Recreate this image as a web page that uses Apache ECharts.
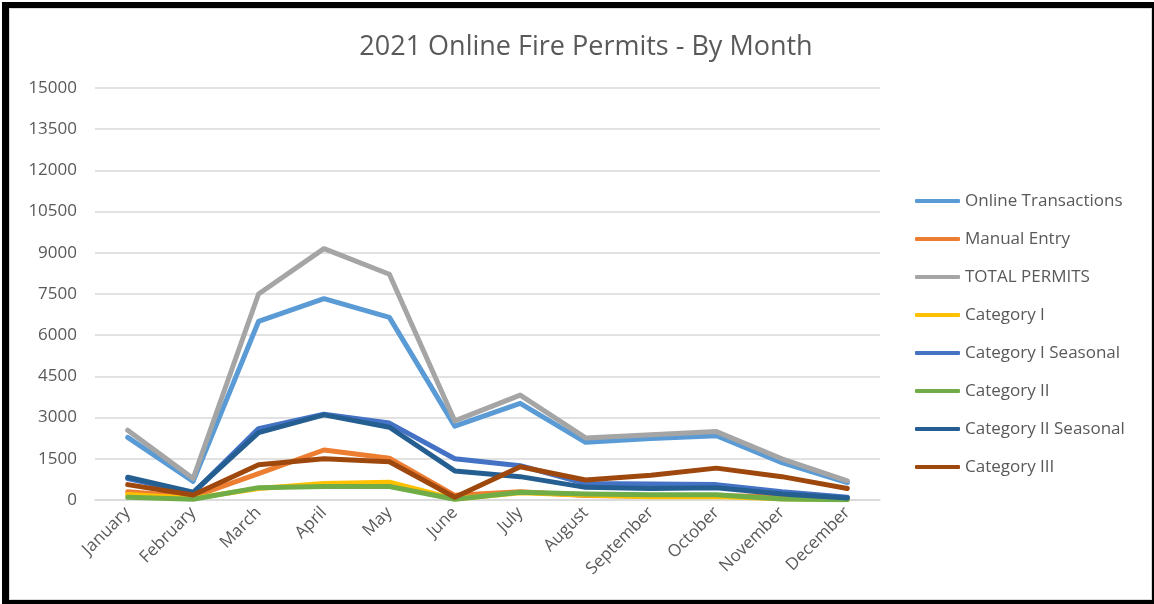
<!DOCTYPE html>
<html>
<head>
<meta charset="utf-8">
<script src="https://cdn.jsdelivr.net/npm/echarts@6/dist/echarts.min.js"></script>
<style>
    body { margin: 0; background: #fff; }
    #chart_main { position: absolute; left: 0; top: 0; width: 1154px; height: 604px; }
    #frame {
        position: absolute; left: 2px; top: 2px; width: 1152px; height: 602px;
        box-sizing: border-box; pointer-events: none;
        border-style: solid; border-color: #000;
        border-width: 6px 2px 4px 7px;
    }
    #inner {
        position: absolute; left: 0; top: 0; right: 0; bottom: 0;
        border: 1px solid #d9d9d9;
    }
</style>
</head>
<body>
<div id="chart_main"></div>
<div id="frame"><div id="inner"></div></div>
<script>
var months = ['January', 'February', 'March', 'April', 'May', 'June', 'July', 'August', 'September', 'October', 'November', 'December'];
var yTicks = [0, 1500, 3000, 4500, 6000, 7500, 9000, 10500, 12000, 13500, 15000];

var onlineTransactions = [2280, 680, 6500, 7330, 6650, 2690, 3520, 2100, 2240, 2340, 1360, 630];
var manualEntry = [300, 120, 960, 1820, 1520, 170, 300, 160, 140, 150, 140, 70];
var totalPermits = [2540, 780, 7500, 9150, 8220, 2880, 3820, 2260, 2380, 2490, 1500, 700];
var categoryI = [200, 60, 420, 600, 650, 40, 260, 180, 120, 130, 50, 20];
var categoryISeasonal = [780, 250, 2600, 3120, 2800, 1500, 1250, 600, 580, 560, 300, 100];
var categoryII = [100, 30, 450, 490, 490, 30, 280, 220, 190, 190, 40, 10];
var categoryIISeasonal = [830, 280, 2450, 3100, 2650, 1060, 850, 460, 420, 450, 220, 70];
var categoryIII = [560, 180, 1280, 1500, 1390, 100, 1210, 730, 900, 1160, 850, 420];

var seriesNames = ['Online Transactions', 'Manual Entry', 'TOTAL PERMITS', 'Category I', 'Category I Seasonal', 'Category II', 'Category II Seasonal', 'Category III'];
var seriesData = [onlineTransactions, manualEntry, totalPermits, categoryI, categoryISeasonal, categoryII, categoryIISeasonal, categoryIII];
var colors = ['#5B9BD5', '#ED7D31', '#A5A5A5', '#FFC000', '#4472C4', '#70AD47', '#255E91', '#9E480E'];

var font = 'Open Sans';
var myChart = echarts.init(document.getElementById('chart_main'));
var option = {
    animation: false,
    color: colors,
    title: {
        text: '2021 Online Fire Permits - By Month',
        left: 581,
        textAlign: 'center',
        top: 29,
        textStyle: { fontFamily: font, fontSize: 27, fontWeight: 'normal', color: '#595959' }
    },
    legend: {
        orient: 'vertical',
        left: 910,
        top: 186,
        icon: 'roundRect',
        itemWidth: 45,
        itemHeight: 4,
        itemGap: 18,
        textStyle: { fontFamily: font, fontSize: 17, color: '#595959', lineHeight: 20 },
        data: seriesNames
    },
    grid: { left: 95, right: 274, top: 88, bottom: 104 },
    xAxis: {
        type: 'category',
        boundaryGap: true,
        data: months,
        axisLine: { lineStyle: { color: '#d9d9d9', width: 1.5 } },
        axisTick: { show: false },
        axisLabel: { rotate: 45, interval: 0, margin: 10, fontFamily: font, fontSize: 17, color: '#595959' }
    },
    yAxis: {
        type: 'value',
        min: yTicks[0],
        max: yTicks[yTicks.length - 1],
        interval: 1500,
        axisLine: { show: false },
        axisTick: { show: false },
        splitLine: { lineStyle: { color: '#d9d9d9', width: 1.5 } },
        axisLabel: {
            margin: 18, fontFamily: font, fontSize: 17, color: '#595959',
            formatter: function (v) { return String(v); }
        }
    },
    series: seriesNames.map(function (name, i) {
        return {
            name: name,
            type: 'line',
            data: seriesData[i],
            symbol: 'none',
            lineStyle: { width: 5, color: colors[i], cap: 'round', join: 'round' }
        };
    })
};
myChart.setOption(option);
</script>
</body>
</html>
